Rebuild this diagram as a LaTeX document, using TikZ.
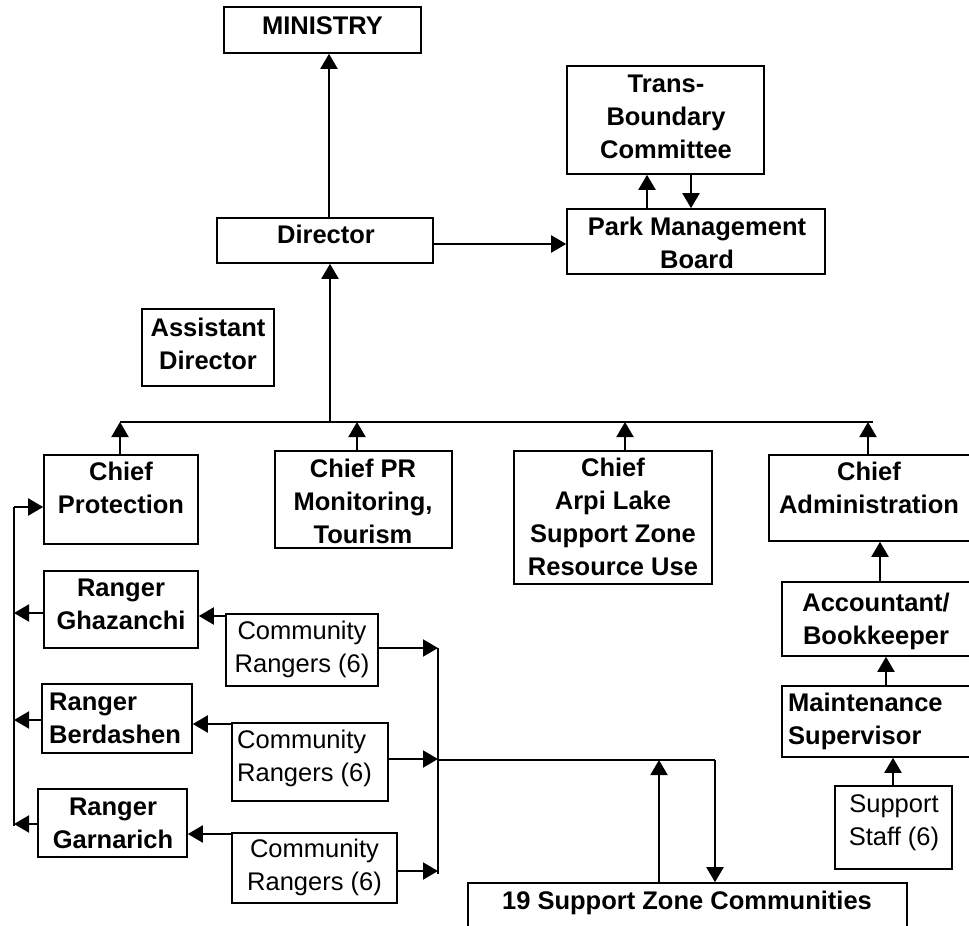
\documentclass[tikz,border=0pt]{standalone}
\usepackage{fontspec}
\setmainfont{Liberation Sans}
\usetikzlibrary{arrows.meta,fit}
\tikzset{
  box/.style={draw, line width=1.6pt, inner sep=0pt},
  bt/.style={inner sep=0pt, anchor=north, align=center, font=\bfseries\fontsize{25.5}{33}\selectfont},
  btl/.style={inner sep=0pt, anchor=north west, align=left, font=\bfseries\fontsize{25.5}{33}\selectfont},
  rt/.style={inner sep=0pt, anchor=north, align=center, font=\fontsize{25.5}{33}\selectfont},
  rtl/.style={inner sep=0pt, anchor=north west, align=left, font=\fontsize{25.5}{33}\selectfont},
  arr/.style={line width=2pt, -{Triangle[width=17pt,length=15pt]}},
  ln/.style={line width=1.6pt},
}
\begin{document}
\begin{tikzpicture}[x=1pt,y=-1pt]
\clip (0,0) rectangle (969,926);
\fill[white] (0,0) rectangle (969,926);
% boxes
\node[box, fit={(224,7) (421,53)}] (ministry) {};
\node[box, fit={(217,218) (433,263)}] (director) {};
\node[box, fit={(567,66) (764,174)}] (tbc) {};
\node[box, fit={(567,209) (825,274)}] (pmb) {};
\node[box, fit={(142,309) (274,386)}] (asst) {};
\node[box, fit={(44,455) (198,544)}] (cprot) {};
\node[box, fit={(275,451) (452,548)}] (cpr) {};
\node[box, fit={(514,451) (712,584)}] (carpi) {};
\node[box, fit={(769,455) (990,541)}] (cadm) {};
\node[box, fit={(782,582) (990,656)}] (acct) {};
\node[box, fit={(782,686) (990,757)}] (maint) {};
\node[box, fit={(835,786) (952,869)}] (sstaff) {};
\node[box, fit={(468,883) (907,950)}] (szc) {};
\node[box, fit={(44,571) (198,648)}] (rgh) {};
\node[box, fit={(42,684) (192,753)}] (rbe) {};
\node[box, fit={(38,789) (187,857)}] (rga) {};
\node[box, fit={(226,614) (378,686)}] (cr1) {};
\node[box, fit={(232,723) (388,801)}] (cr2) {};
\node[box, fit={(232,833) (397,903)}] (cr3) {};
% texts
\node[bt] (ministryt) at (322.5,11.4) {\strut MINISTRY};
\node[bt] (directort) at (326,220.4) {\strut Director};
\node[bt] (tbct) at (666,68.9) {\strut Trans-\\Boundary\\Committee};
\node[bt] (pmbt) at (697,211.9) {\strut Park Management\\Board};
\node[bt] (asstt) at (208,312.9) {\strut Assistant\\Director};
\node[bt] (cprott) at (121,456.9) {\strut Chief\\Protection};
\node[bt] (cprt) at (363,453.9) {\strut Chief PR\\Monitoring,\\Tourism};
\node[bt] (carpit) at (613,452.9) {\strut Chief\\Arpi Lake\\Support Zone\\Resource Use};
\node[bt] (cadmt) at (869,457.4) {\strut Chief\\Administration};
\node[bt] (acctt) at (876,587.9) {\strut Accountant/\\Bookkeeper};
\node[btl] (maintt) at (788,687.9) {\strut Maintenance\\Supervisor};
\node[rt] (sstafft) at (894,788.9) {\strut Support\\Staff (6)};
\node[bt] (szct) at (687,886.4) {\strut 19 Support Zone Communities};
\node[bt] (rght) at (121,572.9) {\strut Ranger\\Ghazanchi};
\node[btl] (rbet) at (49,686.9) {\strut Ranger\\Berdashen};
\node[bt] (rgat) at (113,791.9) {\strut Ranger\\Garnarich};
\node[rt] (cr1t) at (302,615.9) {\strut Community\\Rangers (6)};
\node[rtl] (cr2t) at (237,724.9) {\strut Community\\Rangers (6)};
\node[rt] (cr3t) at (314.5,833.9) {\strut Community\\Rangers (6)};
% bus coordinates
\coordinate (busL) at (120,422);
\coordinate (busR) at (873,422);
\coordinate (busD) at (330,422);
\coordinate (lTop) at (14,507);
\coordinate (lBot) at (14,826);
\coordinate (rTop) at (438,648);
\coordinate (rBot) at (438,874);
\coordinate (hR) at (715,760);
% connectors top
\draw[arr] (329,0 |- director.north) -- (329,0 |- ministry.south);
\draw[arr] (director.east |- 0,244) -- (pmb.west |- 0,244);
\draw[arr] (647,0 |- pmb.north) -- (647,0 |- tbc.south);
\draw[arr] (691,0 |- tbc.south) -- (691,0 |- pmb.north);
\draw[arr] (busD) -- (busD |- director.south);
\draw[ln] (busL) -- (busR);
\draw[arr] (busL |- cprot.north) -- (busL);
\draw[arr] (357,0 |- cpr.north) -- (357,0 |- busL);
\draw[arr] (625,0 |- carpi.north) -- (625,0 |- busL);
\draw[arr] (868,0 |- cadm.north) -- (868,0 |- busL);
% right column
\draw[arr] (880,0 |- acct.north) -- (880,0 |- cadm.south);
\draw[arr] (886,0 |- maint.north) -- (886,0 |- acct.south);
\draw[arr] (893,0 |- sstaff.north) -- (893,0 |- maint.south);
% left column
\draw[ln] (lTop) -- (lBot);
\draw[arr] (lTop) -- (lTop -| cprot.west);
\draw[arr] (rgh.west |- 0,613) -- (lTop |- 0,613);
\draw[arr] (rbe.west |- 0,720) -- (lTop |- 0,720);
\draw[arr] (rga.west |- 0,824) -- (lTop |- 0,824);
\draw[arr] (cr1.west |- 0,616) -- (rgh.east |- 0,616);
\draw[arr] (cr2.west |- 0,724) -- (rbe.east |- 0,724);
\draw[arr] (cr3.west |- 0,834) -- (rga.east |- 0,834);
% to right vertical line
\draw[ln] (rTop) -- (rBot);
\draw[arr] (cr1.east |- rTop) -- (rTop);
\draw[arr] (cr2.east |- 0,759) -- (rTop |- 0,759);
\draw[arr] (cr3.east |- 0,871) -- (rTop |- 0,871);
\draw[ln] (rTop |- hR) -- (hR);
\draw[arr] (659,0 |- szc.north) -- (659,0 |- hR);
\draw[arr] (hR) -- (hR |- szc.north);
\end{tikzpicture}
\end{document}
